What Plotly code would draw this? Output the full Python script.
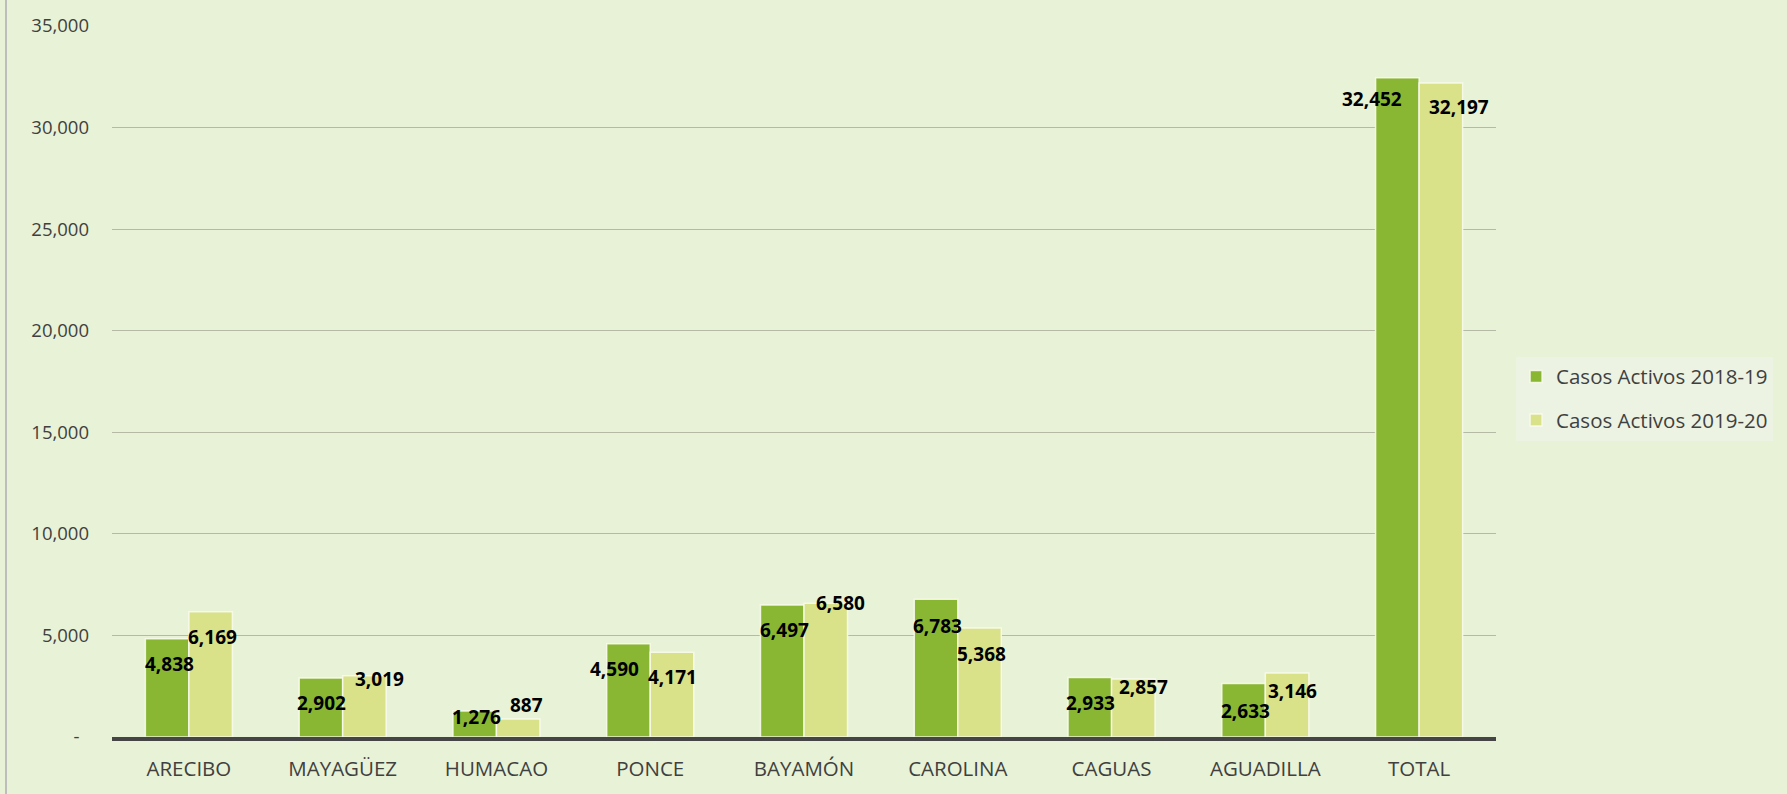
import plotly.graph_objects as go

categories = ["ARECIBO", "MAYAGÜEZ", "HUMACAO", "PONCE", "BAYAMÓN",
              "CAROLINA", "CAGUAS", "AGUADILLA", "TOTAL"]
casos_2018_19 = [4838, 2902, 1276, 4590, 6497, 6783, 2933, 2633, 32452]
casos_2019_20 = [6169, 3019, 887, 4171, 6580, 5368, 2857, 3146, 32197]
series_names = ["Casos Activos 2018-19", "Casos Activos 2019-20"]
y_tick_values = [0, 5000, 10000, 15000, 20000, 25000, 30000, 35000]
y_tick_labels = ["-\u00a0\u00a0", "5,000", "10,000", "15,000", "20,000",
                 "25,000", "30,000", "35,000"]

# label nudges in pixels (dx from bar centre, dy from bar top), layout only
nudge_a = [(2, -25), (1, -25), (2, -6), (-14, -25), (2, -25),
           (1, -27), (1, -26), (2, -27), (-25, -21)]
nudge_b = [(2, -25), (15, -3), (8, 14), (1, -25), (15, 0),
           (2, -26), (10, -8), (5, -18), (18, -24)]

GREEN = "#8AB733"
LIGHT = "#D9E289"
BG = "#E8F2D6"
TXT = "#404040"
FONT = "Open Sans"

fig = go.Figure()
fig.add_trace(go.Bar(x=categories, y=casos_2018_19, name=series_names[0],
                     marker=dict(color=GREEN, line=dict(color="rgba(250,252,240,0.85)", width=1.5)),
                     legendgroup="a", hoverinfo="skip"))
fig.add_trace(go.Bar(x=categories, y=casos_2019_20, name=series_names[1],
                     marker=dict(color=LIGHT, line=dict(color="rgba(250,252,240,0.85)", width=1.5)),
                     legendgroup="b", hoverinfo="skip"))

L, R, T, B = 112, 291, 20, 57
W, H = 1787, 794
plot_w = W - L - R
cat_w = plot_w / len(categories)
bargap = 0.434
half = cat_w * (1 - bargap) / 4

annotations = []
for vals, nudges, sign in ((casos_2018_19, nudge_a, -1), (casos_2019_20, nudge_b, 1)):
    for c, v, (dx, dy) in zip(categories, vals, nudges):
        annotations.append(dict(
            x=c, y=v, xref="x", yref="y", text=f"{v:,}", showarrow=False,
            xanchor="center", yanchor="middle",
            xshift=sign * half + dx, yshift=dy,
            font=dict(family=FONT, size=19, color="#000000", weight="bold")))

fig.update_layout(
    width=W, height=H,
    margin=dict(l=L, r=R, t=T, b=B, pad=0),
    paper_bgcolor=BG, plot_bgcolor=BG,
    barmode="group", bargap=bargap, bargroupgap=0,
    font=dict(family=FONT, color=TXT),
    annotations=annotations,
    legend=dict(x=1.0145, xanchor="left", y=0.476, yanchor="middle",
                bgcolor="#EDF3E2", borderwidth=0, traceorder="grouped",
                tracegroupgap=14, itemwidth=30,
                font=dict(family=FONT, size=20.5, color=TXT)),
    shapes=[dict(type="line", xref="paper", yref="paper",
                 x0=(6 - L) / plot_w, x1=(6 - L) / plot_w, y0=-2, y1=2,
                 line=dict(color="#BDBDBD", width=2))],
)
fig.update_xaxes(type="category", showgrid=False, showline=True,
                 linecolor="#454545", linewidth=3.5, ticks="",
                 tickfont=dict(family=FONT, size=20.5, color=TXT),
                 ticklabelstandoff=11, zeroline=False)
fig.update_yaxes(range=[0, 35000], tickvals=y_tick_values, ticktext=y_tick_labels,
                 showgrid=True, gridcolor="#B5BAA6", gridwidth=1.3,
                 zeroline=False, showline=False, ticks="",
                 ticklabelstandoff=22,
                 tickfont=dict(family=FONT, size=18.5, color=TXT))

fig.write_html("out.html",
               config={"displayModeBar": False},
               post_script="document.body.style.margin='0';document.body.style.background='" + BG + "';")
